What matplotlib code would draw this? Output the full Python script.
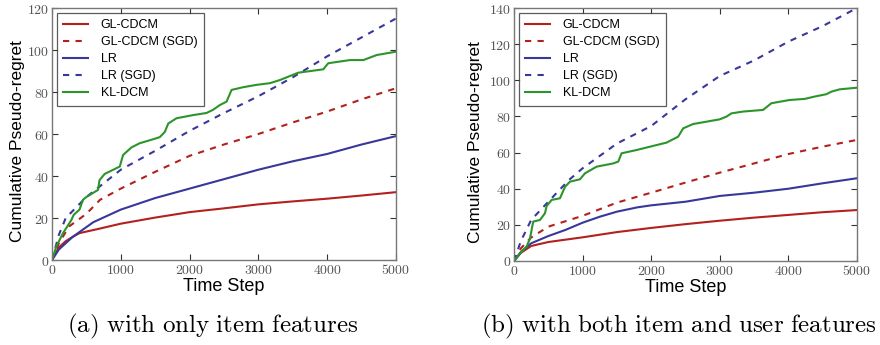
import matplotlib
matplotlib.use("Agg")
import matplotlib.pyplot as plt
from matplotlib.ticker import FuncFormatter

plt.rcParams['mathtext.fontset'] = 'cm'

# ---------------- data: panel (a) ----------------
a_t_gl = [0, 100, 200, 300, 400, 700, 1000, 1500, 2000, 2500, 3000, 3500, 4000, 4500, 5000]
a_gl = [0, 6, 9, 11, 12.8, 15, 17.3, 20.2, 22.8, 24.6, 26.5, 27.9, 29.2, 30.7, 32.3]
a_t_glsgd = [0, 100, 250, 500, 700, 1000, 1500, 2000, 2500, 3000, 3500, 4000, 4500, 5000]
a_glsgd = [0, 8, 16, 22, 28.7, 34, 42, 49.6, 55, 60, 65.5, 70.7, 76.5, 81.8]
a_t_lr = [0, 100, 300, 600, 1000, 1500, 2000, 2500, 3000, 3500, 4000, 4500, 5000]
a_lr = [0, 5, 11, 18, 24, 29.5, 34, 38.5, 43, 47, 50.5, 55, 59]
a_t_lrsgd = [0, 100, 200, 500, 1000, 1500, 2000, 2500, 3000, 3500, 4000, 4500, 5000]
a_lrsgd = [0, 12, 20, 30, 43, 52, 61.5, 70, 78, 87, 97, 106, 115]
a_t_kl = [0, 63, 160, 281, 315, 400, 450, 500, 600, 670, 690, 766, 910, 985, 1033, 1154,
          1275, 1470, 1566, 1640, 1690, 1810, 2050, 2245, 2340, 2440, 2537, 2610, 2780,
          2973, 3167, 3313, 3458, 3580, 3943, 4015, 4330, 4525, 4719, 5000]
a_kl = [0, 6.5, 12.8, 19, 21.5, 24, 28.7, 30, 32, 33.4, 38, 41, 43.3, 44.5, 50, 53.6,
        55.6, 57.5, 58.5, 61, 65, 67.5, 69, 70, 71.5, 73.8, 75.4, 81, 82.3,
        83.4, 84.2, 85.7, 87.6, 89.2, 90.8, 93.7, 95.2, 95.2, 97.6, 99.2]

# ---------------- data: panel (b) ----------------
b_t_gl = [0, 100, 250, 500, 1000, 1500, 2000, 2500, 3000, 3500, 4000, 4500, 5000]
b_gl = [0, 4.5, 8.3, 10.5, 13.1, 16, 18.3, 20.4, 22.3, 24, 25.5, 27, 28.2]
b_t_glsgd = [0, 100, 250, 500, 1000, 1500, 2000, 2500, 3000, 3500, 4000, 4500, 5000]
b_glsgd = [0, 7, 13, 19, 25, 32.3, 37.8, 43.4, 48.9, 54, 59.2, 63.3, 67]
b_t_lr = [0, 100, 250, 500, 750, 1000, 1250, 1500, 1800, 2000, 2500, 3000, 3500, 4000, 4500, 5000]
b_lr = [0, 5, 9.8, 13.8, 17.2, 21.2, 24.5, 27.3, 29.7, 30.8, 32.8, 36, 37.8, 40, 43, 45.8]
b_t_lrsgd = [0, 100, 250, 500, 800, 1000, 1500, 2000, 2500, 3000, 3500, 4000, 4500, 5000]
b_lrsgd = [0, 11, 22.7, 32.8, 44.8, 51.3, 65, 74.7, 89.5, 102.4, 111, 121.4, 130, 140]
b_t_kl = [0, 87, 184, 233, 280, 379, 451, 476, 549, 670, 743, 815, 961, 1034, 1204, 1447,
          1520, 1568, 1786, 2029, 2223, 2393, 2466, 2612, 2806, 3000, 3097, 3170, 3340,
          3631, 3752, 4019, 4238, 4383, 4553, 4626, 4748, 5000]
b_kl = [0, 4.2, 8, 12.5, 21.8, 22.7, 26.4, 30.4, 33.8, 34.7, 41, 43.9, 45.2, 48.5, 52.2, 54,
        55, 59.6, 61.4, 63.7, 65.5, 68.8, 73.4, 75.8, 77.1, 78.4, 79.9, 81.7, 82.7,
        83.6, 87.3, 89.1, 89.7, 91, 92.3, 93.7, 95, 95.9]

labels = ["GL-CDCM", "GL-CDCM (SGD)", "LR", "LR (SGD)", "KL-DCM"]
x_ticks = [0, 1000, 2000, 3000, 4000, 5000]
a_y_ticks = [0, 20, 40, 60, 80, 100, 120]
b_y_ticks = [0, 20, 40, 60, 80, 100, 120, 140]
captions = ["(a) with only item features", "(b) with both item and user features"]

RED = "#b3211e"
BLUE = "#38389a"
GREEN = "#2b952b"

fig = plt.figure(figsize=(8.8, 3.45), dpi=100)
W, H = 880, 345
axA = fig.add_axes([52 / W, 1 - 260 / H, (396 - 52) / W, (260 - 8) / H])
axB = fig.add_axes([514 / W, 1 - 261 / H, (857 - 514) / W, (261 - 8) / H])

fmt = FuncFormatter(lambda v, p: r"$\mathrm{%d}$" % v)


def draw(ax, series, yticks, caption, cx, lx):
    styles = [(RED, "-"), (RED, "--"), (BLUE, "-"), (BLUE, "--"), (GREEN, "-")]
    for (t, y), (c, ls), lab in zip(series, styles, labels):
        ax.plot(t, y, color=c, ls=ls, lw=1.5, label=lab,
                dashes=(3, 3) if ls == "--" else (None, None))
    ax.set_xlim(0, 5000)
    ax.set_ylim(yticks[0], yticks[-1])
    ax.set_xticks(x_ticks)
    ax.set_yticks(yticks)
    ax.xaxis.set_major_formatter(fmt)
    ax.yaxis.set_major_formatter(fmt)
    ax.tick_params(direction="in", top=True, right=True, length=4, width=0.8,
                   labelsize=10, labelcolor="#555555", color="#333333", pad=2)
    for s in ax.spines.values():
        s.set_color("#777777")
        s.set_linewidth(1.0)
    ax.set_xlabel("Time Step", fontsize=13, family="Liberation Sans", labelpad=1)
    ax.set_ylabel("Cumulative Pseudo-regret", fontsize=12.5, family="Liberation Sans")
    ax.yaxis.set_label_coords(lx, 0.47)
    leg = ax.legend(loc="upper left", fancybox=False, frameon=True, handlelength=2.0,
                    prop={"family": "Liberation Sans", "size": 9},
                    borderaxespad=0.4, labelspacing=0.4, handletextpad=1.0,
                    borderpad=0.5)
    leg.get_frame().set_edgecolor("#333333")
    leg.get_frame().set_linewidth(0.9)
    fig.text(cx, 1 - 326 / H, caption.replace(" ", r"\ ").join([r"$\mathrm{", "}$"]),
             ha="center", va="center", fontsize=18)


draw(axA, [(a_t_gl, a_gl), (a_t_glsgd, a_glsgd), (a_t_lr, a_lr), (a_t_lrsgd, a_lrsgd), (a_t_kl, a_kl)],
     a_y_ticks, captions[0], 213 / W, -0.078)
draw(axB, [(b_t_gl, b_gl), (b_t_glsgd, b_glsgd), (b_t_lr, b_lr), (b_t_lrsgd, b_lrsgd), (b_t_kl, b_kl)],
     b_y_ticks, captions[1], 679 / W, -0.09)

fig.savefig("out.png", dpi=100)
